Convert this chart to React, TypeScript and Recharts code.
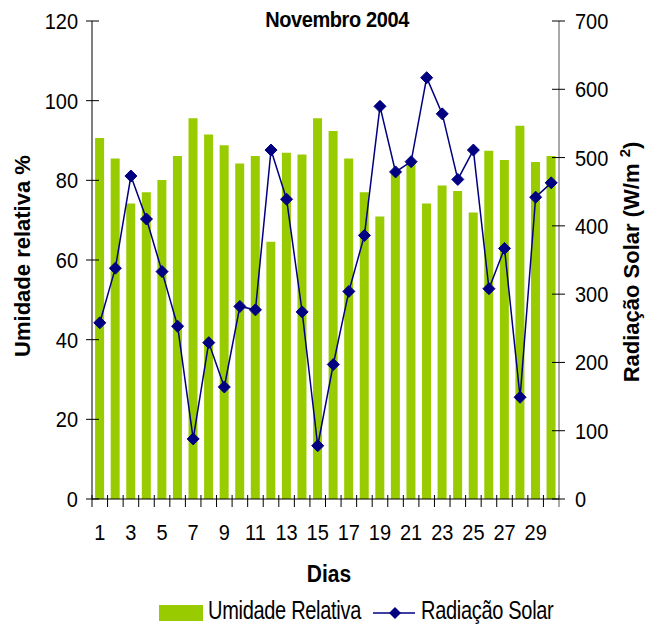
import { Bar, ComposedChart, Line, XAxis, YAxis } from 'recharts';

const days = [
  '1', '2', '3', '4', '5', '6', '7', '8', '9', '10',
  '11', '12', '13', '14', '15', '16', '17', '18', '19', '20',
  '21', '22', '23', '24', '25', '26', '27', '28', '29', '30',
];

// Umidade relativa (%)
const humidity = [
  90.6, 85.5, 74.2, 77.0, 80.1, 86.1, 95.6, 91.5, 88.8, 84.2,
  86.1, 64.6, 86.9, 86.5, 95.6, 92.4, 85.5, 77.0, 70.9, 82.3,
  84.4, 74.2, 78.7, 77.3, 71.9, 87.4, 85.1, 93.7, 84.6, 86.1,
];

// Radiação solar (W/m2)
const radiation = [
  258, 338, 473, 410, 333, 253, 88, 229, 164, 282,
  277, 511, 439, 274, 78, 197, 304, 386, 575, 479,
  494, 617, 564, 468, 511, 308, 367, 149, 442, 463,
];

const humidityTicks = [0, 20, 40, 60, 80, 100, 120];
const radiationTicks = [0, 100, 200, 300, 400, 500, 600, 700];

const data = days.map((d, i) => ({ dia: d, umidade: humidity[i], radiacao: radiation[i] }));

const W = 645;
const H = 627;
const LEFT = 92;
const RIGHT = 86;
const TOP = 21;
const BOTTOM = 128;
const BAND = (W - LEFT - RIGHT) / days.length;

const FONT = '"Liberation Sans", Arial, sans-serif';
const GREEN = '#99CC00';
const NAVY = '#000080';

// the original's text is drawn a little taller than it is wide
const stretch = (x: number, y: number, s: number) => `translate(${x},${y}) scale(1,${s})`;

function DayTick(props: any) {
  const { x, y, payload, index } = props;
  const left = x - BAND / 2;
  const last = index === days.length - 1;
  const n = Number(payload.value);
  return (
    <g>
      <line x1={left} x2={left} y1={y - 4} y2={y + 8} stroke='#000' />
      {last && <line x1={x + BAND / 2} x2={x + BAND / 2} y1={y - 4} y2={y + 8} stroke='#555' />}
      {n % 2 === 1 && (
        <text transform={stretch(x, y + 41, 1.12)} textAnchor='middle' fontSize={20} fontFamily={FONT} fill='#000'>
          {payload.value}
        </text>
      )}
    </g>
  );
}

function LeftTick(props: any) {
  const { x, y, payload } = props;
  return (
    <g>
      <line x1={x - 6} x2={x + 7} y1={y} y2={y} stroke='#000' />
      <text transform={stretch(x - 14, y + 8, 1.12)} textAnchor='end' fontSize={20} fontFamily={FONT} fill='#000'>
        {payload.value}
      </text>
    </g>
  );
}

function RightTick(props: any) {
  const { x, y, payload } = props;
  return (
    <g>
      <line x1={x - 7} x2={x + 6} y1={y} y2={y} stroke='#000' />
      <text transform={stretch(x + 16, y + 8, 1.12)} textAnchor='start' fontSize={20} fontFamily={FONT} fill='#000'>
        {payload.value}
      </text>
    </g>
  );
}

function Diamond(props: any) {
  const { cx, cy, index } = props;
  const r = 6;
  return (
    <polygon
      key={`d-${index}`}
      points={`${cx},${cy - r} ${cx + r},${cy} ${cx},${cy + r} ${cx - r},${cy}`}
      fill={NAVY}
      stroke={NAVY}
    />
  );
}

export default function App() {
  return (
    <div style={{ position: 'relative', width: W, height: H, fontFamily: FONT }}>
      <style>{'body{margin:0}'}</style>
      <ComposedChart
        width={W}
        height={H}
        data={data}
        margin={{ top: TOP, right: 0, bottom: BOTTOM - 40, left: 0 }}
        barCategoryGap='20%'
      >
        <XAxis
          dataKey='dia'
          height={40}
          interval={0}
          tickSize={0}
          tickMargin={0}
          tickLine={false}
          axisLine={{ stroke: '#000' }}
          tick={<DayTick />}
        />
        <YAxis
          yAxisId='left'
          width={LEFT}
          domain={[0, 120]}
          ticks={humidityTicks}
          tickSize={0}
          tickMargin={0}
          tickLine={false}
          axisLine={{ stroke: '#000' }}
          tick={<LeftTick />}
        />
        <YAxis
          yAxisId='right'
          orientation='right'
          width={RIGHT}
          domain={[0, 700]}
          ticks={radiationTicks}
          tickSize={0}
          tickMargin={0}
          tickLine={false}
          axisLine={{ stroke: '#555' }}
          tick={<RightTick />}
        />
        <Bar yAxisId='left' dataKey='umidade' fill={GREEN} isAnimationActive={false} />
        <Line
          yAxisId='right'
          dataKey='radiacao'
          type='linear'
          stroke={NAVY}
          strokeWidth={1.5}
          dot={(p: any) => <Diamond key={`dot-${p.index}`} {...p} />}
          activeDot={false}
          isAnimationActive={false}
        />
      </ComposedChart>
      <svg
        width={W}
        height={H}
        style={{ position: 'absolute', left: 0, top: 0, pointerEvents: 'none' }}
        fontFamily={FONT}
      >
        <text transform={stretch(337, 27, 1.1)} textAnchor='middle' fontSize={20} fontWeight='bold' letterSpacing={-0.4}>
          Novembro 2004
        </text>
        <text transform='translate(30,256) rotate(-90)' textAnchor='middle' fontSize={22} fontWeight='bold'>
          Umidade relativa %
        </text>
        <text transform='translate(639,262) rotate(-90)' textAnchor='middle' fontSize={22} fontWeight='bold'>
          Radiação Solar (W/m <tspan fontSize={15} dy={-9}>2</tspan>
          <tspan dy={9}>)</tspan>
        </text>
        <text transform={stretch(329, 582, 1.1)} textAnchor='middle' fontSize={21} fontWeight='bold'>
          Dias
        </text>
        <rect x={159} y={605} width={44} height={16} fill={GREEN} />
        <text transform={stretch(208, 619, 1.25)} fontSize={20} letterSpacing={-0.3}>
          Umidade Relativa
        </text>
        <line x1={373} x2={415} y1={613} y2={613} stroke={NAVY} strokeWidth={1.5} />
        <polygon points='395,607 401,613 395,619 389,613' fill={NAVY} />
        <text transform={stretch(421, 619, 1.25)} fontSize={20} letterSpacing={-0.3}>
          Radiação Solar
        </text>
      </svg>
    </div>
  );
}
